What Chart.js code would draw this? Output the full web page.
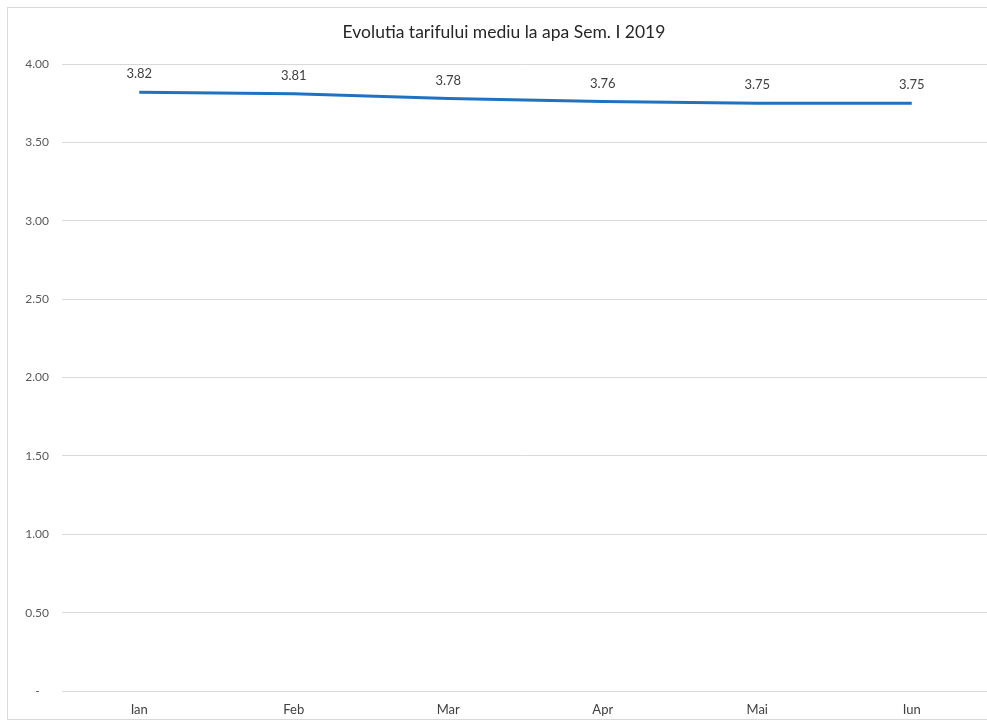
<!DOCTYPE html>
<html>
<head>
<meta charset="utf-8">
<script src="https://cdn.jsdelivr.net/npm/chart.js@4"></script>
<style>
  html, body { margin: 0; padding: 0; background: #fff; overflow: hidden; }
  #cadru { width: 987px; height: 724px; overflow: hidden; }
  #wrap { position: relative; width: 1008px; height: 724px; }
</style>
</head>
<body>
<div id="cadru"><div id="wrap"><canvas id="grafic"></canvas></div></div>
<script>
const LUNI = ["Ian", "Feb", "Mar", "Apr", "Mai", "Iun"];
const TARIF = [3.82, 3.81, 3.78, 3.76, 3.75, 3.75];
const TITLU = "Evolutia tarifului mediu la apa Sem. I 2019";

Chart.defaults.font.family = "Lato, 'Open Sans', sans-serif";
Chart.defaults.color = "#595959";

// chenarul gri si titlul centrat pe tot graficul
const pluginChenar = {
  id: "chenar",
  beforeDraw(chart) {
    const { ctx, width } = chart;
    ctx.save();
    ctx.strokeStyle = "#d9d9d9";
    ctx.lineWidth = 1;
    ctx.strokeRect(7.5, 7.5, width - 15, 712);
    ctx.font = "17.5px Lato, 'Open Sans', sans-serif";
    ctx.fillStyle = "#262626";
    ctx.textAlign = "center";
    ctx.textBaseline = "middle";
    ctx.fillText(TITLU, width / 2, 32);
    ctx.restore();
  }
};

// etichete cu valori deasupra punctelor
const pluginEtichete = {
  id: "etichete",
  afterDatasetsDraw(chart) {
    const { ctx } = chart;
    const meta = chart.getDatasetMeta(0);
    ctx.save();
    ctx.font = "13px Lato, 'Open Sans', sans-serif";
    ctx.fillStyle = "#404040";
    ctx.textAlign = "center";
    ctx.textBaseline = "middle";
    meta.data.forEach((pt, i) => {
      ctx.fillText(TARIF[i].toFixed(2), pt.x, pt.y - 18);
    });
    ctx.restore();
  }
};

new Chart(document.getElementById("grafic"), {
  type: "line",
  data: {
    labels: LUNI,
    datasets: [{
      data: TARIF,
      borderColor: "#1f72c2",
      borderWidth: 3,
      pointRadius: 0,
      tension: 0,
      fill: false
    }]
  },
  options: {
    responsive: true,
    maintainAspectRatio: false,
    animation: false,
    layout: { padding: { left: 0, right: 19, top: 64, bottom: 0 } },
    plugins: {
      legend: { display: false },
      tooltip: { enabled: false },
      title: { display: false }
    },
    scales: {
      x: {
        offset: true,
        grid: { display: false },
        border: { display: false },
        ticks: { padding: 3, font: { size: 13 }, color: "#404040" },
        afterFit: s => { s.height = 33; }
      },
      y: {
        min: 0,
        max: 4,
        grid: { color: "#d9d9d9", drawTicks: false },
        border: { display: false },
        ticks: {
          stepSize: 0.5,
          padding: 13,
          font: { size: 12 },
          color: "#595959",
          callback: v => v === 0 ? "-   " : v.toFixed(2)
        },
        afterFit: s => { s.width = 62; }
      }
    }
  },
  plugins: [pluginChenar, pluginEtichete]
});
</script>
</body>
</html>
